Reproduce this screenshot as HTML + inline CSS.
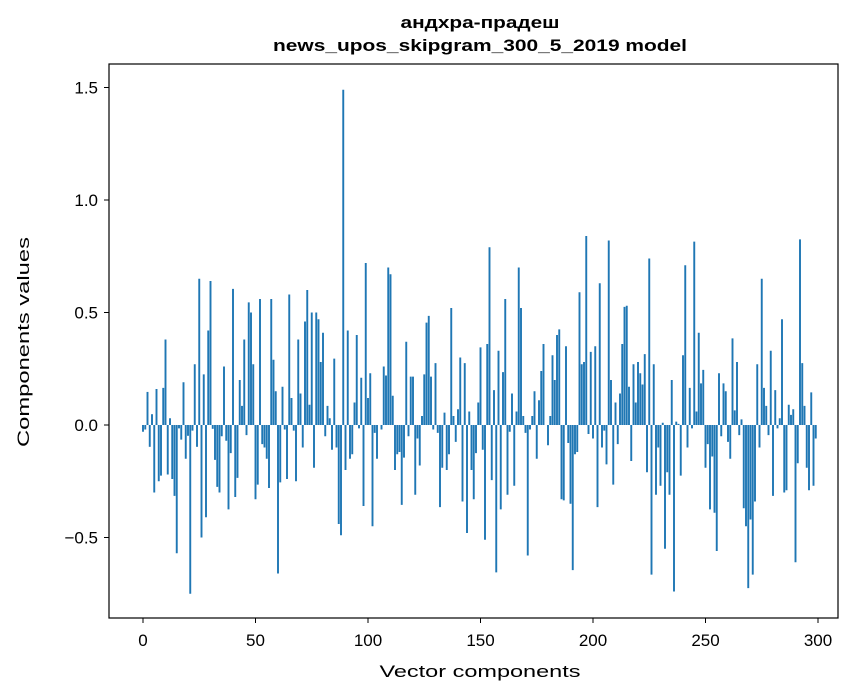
<!DOCTYPE html>
<html><head><meta charset="utf-8">
<style>
html,body{margin:0;padding:0;background:#fff;}
svg{display:block;font-family:"Liberation Sans","DejaVu Sans",sans-serif;}
</style></head>
<body>
<svg id="chart" width="867" height="696" viewBox="0 0 867 696">
  <text x="480" y="28" text-anchor="middle" font-size="17" font-weight="bold" textLength="159" lengthAdjust="spacingAndGlyphs">андхра-прадеш</text>
  <text x="480" y="51" text-anchor="middle" font-size="17" font-weight="bold" textLength="414" lengthAdjust="spacingAndGlyphs">news_upos_skipgram_300_5_2019 model</text>
  <g id="bars"></g>
  <rect x="109" y="64" width="729" height="554" fill="none" stroke="#000" stroke-width="1.2"/>
  <g id="xticks"></g>
  <g id="yticks"></g>
  <text x="480" y="677" text-anchor="middle" font-size="17" textLength="201" lengthAdjust="spacingAndGlyphs">Vector components</text>
  <text x="0" y="0" transform="translate(29,342) rotate(-90)" text-anchor="middle" font-size="17" textLength="210" lengthAdjust="spacingAndGlyphs">Components values</text>
</svg>
<script>
const xTicks = [0, 50, 100, 150, 200, 250, 300];
const yTicks = [-0.5, 0, 0.5, 1.0, 1.5];
const yTickLabels = ["\u22120.5", "0.0", "0.5", "1.0", "1.5"];
const values = [
-0.03,-0.02,0.147,-0.097,0.048,-0.30,0.16,-0.25,-0.225,0.165,
0.38,-0.22,0.03,-0.24,-0.315,-0.57,-0.015,-0.065,0.19,-0.15,
-0.048,-0.75,-0.025,0.27,-0.097,0.65,-0.50,0.225,-0.41,0.42,
0.64,-0.017,-0.155,-0.275,-0.30,-0.05,0.26,-0.07,-0.375,-0.125,
0.605,-0.32,-0.235,0.2,0.085,0.38,-0.045,0.545,0.5,0.27,
-0.33,-0.265,0.56,-0.085,-0.1,-0.15,-0.28,0.56,0.29,0.15,
-0.66,-0.255,0.17,-0.02,-0.24,0.58,0.12,-0.025,-0.25,0.38,
0.14,-0.1,0.46,0.6,0.09,0.5,-0.19,0.5,0.47,0.28,
0.41,-0.05,0.085,0.03,-0.11,0.295,-0.1,-0.44,-0.49,1.49,
-0.2,0.42,-0.15,-0.13,0.1,0.4,-0.015,0.21,-0.36,0.72,
0.12,0.23,-0.45,-0.035,-0.15,0.0,-0.02,0.26,0.22,0.7,
0.67,0.13,-0.2,-0.13,-0.12,-0.355,-0.145,0.37,-0.05,0.215,
0.215,-0.31,-0.06,-0.18,0.04,0.225,0.455,0.485,0.215,-0.02,
0.275,-0.035,-0.365,-0.19,0.055,-0.2,-0.13,0.52,0.04,-0.075,
0.07,0.3,-0.34,0.275,-0.48,0.06,-0.2,-0.33,-0.125,0.1,
0.345,-0.11,-0.51,0.36,0.79,-0.245,0.155,-0.655,0.33,-0.375,
0.235,0.56,-0.31,-0.03,0.14,-0.27,0.06,0.7,0.52,0.04,
-0.035,-0.58,-0.02,0.04,0.15,-0.15,0.11,0.24,0.36,0.0,
-0.09,0.04,0.31,0.2,0.4,0.425,-0.33,-0.335,0.35,-0.08,
-0.35,-0.645,-0.13,-0.12,0.59,0.27,0.28,0.84,-0.04,0.325,
-0.06,0.35,-0.365,0.63,-0.1,-0.025,-0.175,0.82,0.2,-0.265,
0.1,-0.085,0.14,0.36,0.525,0.53,0.17,-0.16,0.27,0.1,
0.28,0.23,0.18,0.315,-0.21,0.74,-0.665,0.27,-0.31,-0.1,
-0.27,0.01,-0.55,-0.21,-0.31,0.2,-0.74,0.015,0.005,-0.225,
0.31,0.71,-0.1,0.165,-0.015,0.815,0.06,0.41,0.185,0.245,
-0.19,-0.085,-0.375,-0.14,-0.39,-0.56,0.23,-0.05,0.185,0.15,
-0.075,-0.15,0.385,0.065,0.28,-0.045,0.025,-0.37,-0.45,-0.725,
-0.42,-0.665,-0.34,0.27,-0.1,0.65,0.165,0.085,-0.045,0.33,
-0.315,0.155,-0.015,0.03,0.47,-0.3,-0.29,0.09,0.045,0.07,
-0.61,-0.17,0.825,0.275,0.085,-0.19,-0.29,0.145,-0.27,-0.06
];
const NS = "http://www.w3.org/2000/svg";
const xScale = v => 143 + 2.25 * v;
const yScale = v => 425 - 225 * v;
const barW = 0.85 * 2.25;
const gb = document.getElementById('bars');
values.forEach((v, i) => {
  const r = document.createElementNS(NS, 'rect');
  const y0 = yScale(0), y1 = yScale(v);
  r.setAttribute('x', xScale(i) - barW / 2);
  r.setAttribute('y', Math.min(y0, y1));
  r.setAttribute('width', barW);
  r.setAttribute('height', Math.max(Math.abs(y1 - y0), 0.01));
  r.setAttribute('fill', '#1f77b4');
  
  
  gb.appendChild(r);
});
const gx = document.getElementById('xticks');
xTicks.forEach(t => {
  const x = xScale(t);
  const l = document.createElementNS(NS, 'line');
  l.setAttribute('x1', x); l.setAttribute('x2', x);
  l.setAttribute('y1', 618); l.setAttribute('y2', 623);
  l.setAttribute('stroke', '#000');
  
  
  gx.appendChild(l);
  const tx = document.createElementNS(NS, 'text');
  tx.setAttribute('x', x); tx.setAttribute('y', 646);
  tx.setAttribute('text-anchor', 'middle'); tx.setAttribute('font-size', '17');
  tx.textContent = t;
  
  
  gx.appendChild(tx);
});
const gy = document.getElementById('yticks');
yTicks.forEach((t, k) => {
  const y = yScale(t);
  const l = document.createElementNS(NS, 'line');
  l.setAttribute('x1', 104); l.setAttribute('x2', 109);
  l.setAttribute('y1', y); l.setAttribute('y2', y);
  l.setAttribute('stroke', '#000');
  
  
  gy.appendChild(l);
  const tx = document.createElementNS(NS, 'text');
  tx.setAttribute('x', 98); tx.setAttribute('y', y + 6);
  tx.setAttribute('text-anchor', 'end'); tx.setAttribute('font-size', '17');
  tx.textContent = yTickLabels[k];
  
  
  gy.appendChild(tx);
});
</script>
</body></html>
